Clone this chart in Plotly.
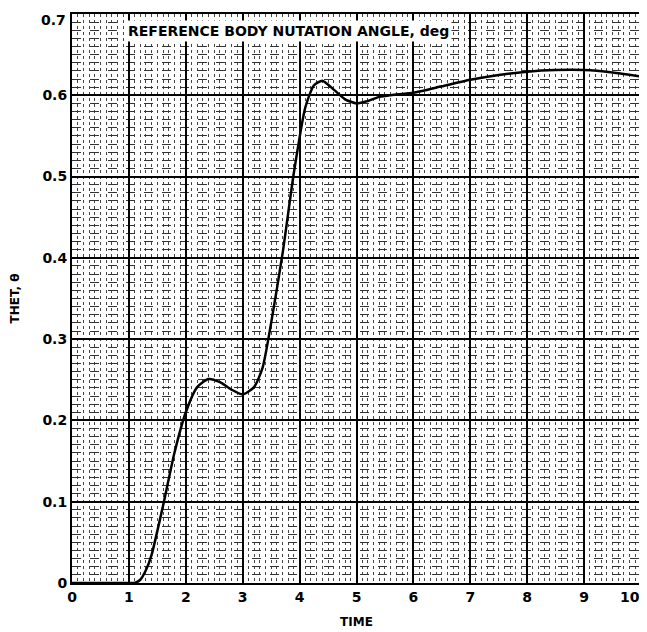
import plotly.graph_objects as go

# curve
time = [0, 0.5, 1.0, 1.1, 1.2, 1.3, 1.4, 1.6, 1.8, 2.0, 2.2, 2.4, 2.6, 2.8, 3.0, 3.2,
        3.35, 3.5, 3.7, 3.9, 4.1, 4.25, 4.4, 4.6, 4.8, 5.0, 5.2, 5.4, 5.7, 6.0, 6.5,
        7.0, 7.5, 8.0, 8.5, 9.0, 9.5, 10.0]
theta = [0, 0, 0, 0, 0.004, 0.016, 0.035, 0.095, 0.16, 0.21, 0.241, 0.251, 0.247,
         0.238, 0.232, 0.241, 0.265, 0.32, 0.405, 0.505, 0.585, 0.612, 0.618, 0.607,
         0.595, 0.590, 0.593, 0.598, 0.601, 0.603, 0.611, 0.619, 0.625, 0.629, 0.631,
         0.631, 0.628, 0.623]

xticks = list(range(0, 10))
xlast = 10
yticks = [0, 0.1, 0.2, 0.3, 0.4, 0.5, 0.6]
yticktext = ['0', '0.1', '0.2', '0.3', '0.4', '0.5', '0.6']
ylast = '0.7'

FONT = 'DejaVu Sans'

fig = go.Figure()

fig.add_trace(go.Scatter(
    x=time, y=theta,
    mode='lines',
    line={'color': 'black', 'width': 2.5, 'shape': 'spline', 'smoothing': 0.6},
    showlegend=False))

fig.add_annotation(
    x=0.38, y=0.99, xref='paper', yref='paper',
    text='<b>REFERENCE BODY NUTATION ANGLE, deg</b>',
    showarrow=False, xanchor='center', yanchor='top',
    font={'family': FONT, 'size': 14, 'color': 'black'},
    bgcolor='white', borderpad=2)

# end tick labels, kept inside the page
fig.add_annotation(
    x=xlast, y=0, xref='x', yref='paper',
    text='<b>%d</b>' % xlast,
    showarrow=False, xanchor='right', yanchor='top',
    xshift=1, yshift=-4,
    font={'family': FONT, 'size': 14, 'color': 'black'})
fig.add_annotation(
    x=0, y=1, xref='paper', yref='paper',
    text='<b>%s</b>' % ylast,
    showarrow=False, xanchor='right', yanchor='top',
    xshift=-4, yshift=4,
    font={'family': FONT, 'size': 14, 'color': 'black'})

fig.update_layout(
    width=639,
    height=624,
    margin=dict(l=62, r=4, t=4, b=49),
    paper_bgcolor='white',
    plot_bgcolor='white',
    font={'family': FONT, 'color': 'black'},
    xaxis=dict(
        range=[0, 10],
        tickvals=xticks,
        ticks='',
        tickfont={'size': 14, 'family': FONT, 'weight': 'bold'},
        showgrid=True, gridcolor='black', gridwidth=1.5,
        minor=dict(dtick=0.1, showgrid=True, gridcolor='#444', gridwidth=1, griddash='dot'),
        showline=True, linecolor='black', linewidth=2, mirror=True,
        zeroline=False,
        title=dict(text='<b>TIME</b>', font={'size': 12}, standoff=14),
    ),
    yaxis=dict(
        range=[0, 0.7],
        tickvals=yticks, ticktext=yticktext,
        ticks='',
        tickfont={'size': 14, 'family': FONT, 'weight': 'bold'},
        showgrid=True, gridcolor='black', gridwidth=1.5,
        minor=dict(dtick=0.01, showgrid=True, gridcolor='#333', gridwidth=1, griddash='dash'),
        showline=True, linecolor='black', linewidth=2, mirror=True,
        zeroline=False,
        title=dict(text='<b>THET, θ</b>', font={'size': 12}, standoff=22),
    ),
)

fig.write_html("out.html")
